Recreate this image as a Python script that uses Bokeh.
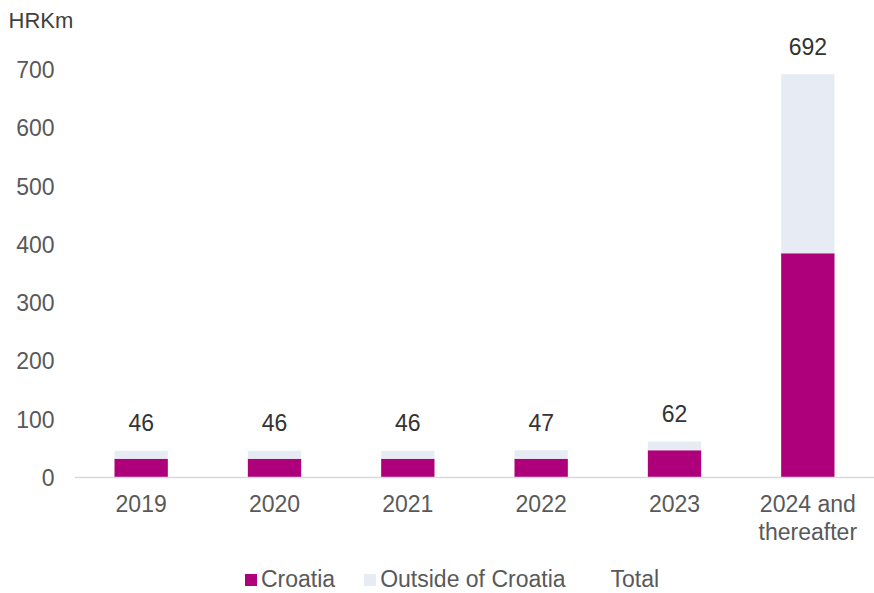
from bokeh.plotting import figure
from bokeh.models import ColumnDataSource, FixedTicker, Legend, LegendItem
from bokeh.core.properties import value
from bokeh.embed import file_html
from bokeh.resources import INLINE

years = ["2019", "2020", "2021", "2022", "2023", "2024 and\nthereafter"]
croatia = [32, 32, 32, 32, 47, 385]
outside = [14, 14, 14, 15, 15, 307]
total = [46, 46, 46, 47, 62, 692]
total_labels = [str(t) for t in total]
y_ticks = [0, 100, 200, 300, 400, 500, 600, 700]

FONT = "Liberation Sans"
C_CRO = "#ae007a"
C_OUT = "#e7ebf3"
FS = "23px"

src = ColumnDataSource(dict(year=years, croatia=croatia, outside=outside,
                            total=total, lbl=total_labels))

p = figure(x_range=years, y_range=(-199, 755), frame_width=800, frame_height=556,
           output_backend="svg", toolbar_location=None,
           title="HRKm", min_border_left=74, min_border_right=0,
           min_border_top=0, min_border_bottom=0)
p.title.text_font = FONT
p.title.text_font_size = "22px"
p.title.text_font_style = "normal"
p.title.text_color = "#404040"
p.title.align = "left"
p.title.offset = -66

p.outline_line_color = None
p.xgrid.grid_line_color = None
p.ygrid.grid_line_color = None

w = 0.40
r1 = p.vbar(x="year", bottom=0, top="croatia", width=w, source=src,
            fill_color=C_CRO, line_color=None)
src2 = ColumnDataSource(dict(year=years,
                             b=croatia,
                             t=[c + o for c, o in zip(croatia, outside)]))
r2 = p.vbar(x="year", bottom="b", top="t", width=w, source=src2,
            fill_color=C_OUT, line_color=None)
r3 = p.vbar(x="year", bottom=0, top="total", width=w, source=src,
            fill_alpha=0, line_alpha=0)

p.text(x="year", y="total", text="lbl", source=src,
       text_font=value(FONT), text_font_size=FS, text_color="#333333",
       text_align="center", text_baseline="alphabetic", y_offset=-28)

# axes
p.yaxis.ticker = FixedTicker(ticks=y_ticks)
p.yaxis.axis_line_color = None
p.yaxis.major_tick_line_color = None
p.yaxis.minor_tick_line_color = None
p.yaxis.major_label_text_font = FONT
p.yaxis.major_label_text_font_size = FS
p.yaxis.major_label_text_color = "#595959"
p.yaxis.major_label_standoff = 14

p.xaxis.fixed_location = 0
p.xaxis.axis_line_color = "#d9d9d9"
p.xaxis.axis_line_width = 1.5
p.xaxis.major_tick_line_color = None
p.xaxis.minor_tick_line_color = None
p.xaxis.major_label_text_font = FONT
p.xaxis.major_label_text_font_size = FS
p.xaxis.major_label_text_color = "#595959"
p.xaxis.major_label_text_line_height = 1.1
p.xaxis.major_label_standoff = 7
p.x_range.range_padding = 0

legend = Legend(items=[
    LegendItem(label="Croatia", renderers=[r1]),
    LegendItem(label="Outside of Croatia", renderers=[r2]),
    LegendItem(label="Total", renderers=[r3]),
], orientation="horizontal", location=(169, 0))
legend.label_text_font = FONT
legend.label_text_font_size = FS
legend.label_text_color = "#595959"
legend.glyph_width = 15
legend.glyph_height = 15
legend.label_standoff = 3
legend.spacing = 27
legend.border_line_color = None
legend.background_fill_alpha = 0
legend.padding = 0
legend.margin = 0
p.add_layout(legend)

open("out.html", "w").write(file_html(p, INLINE))
